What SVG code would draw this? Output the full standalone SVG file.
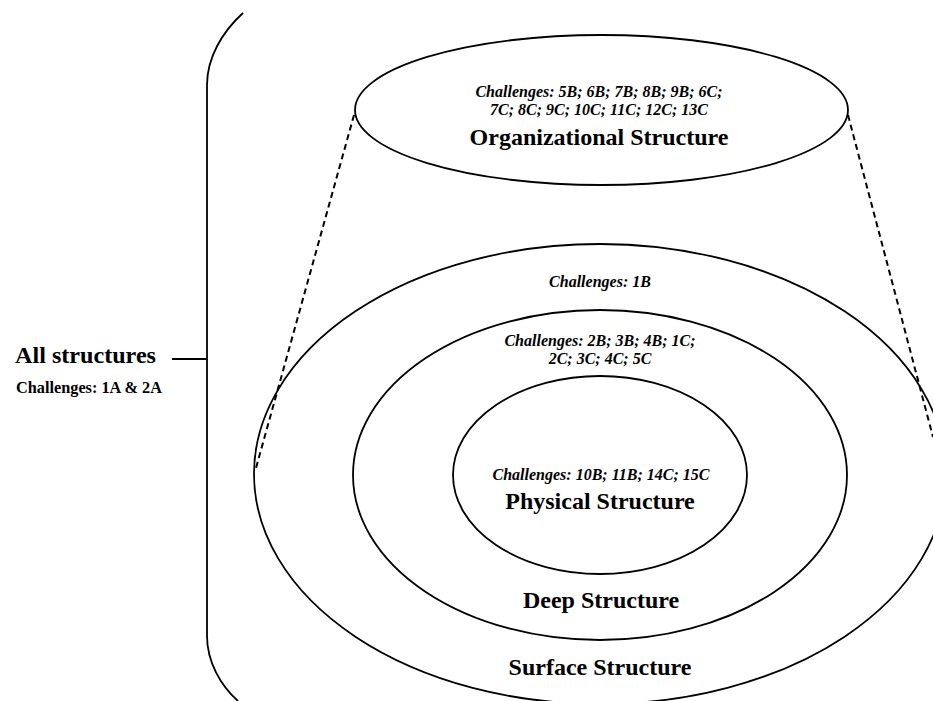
<svg xmlns="http://www.w3.org/2000/svg" width="933" height="701" viewBox="0 0 933 701">
<style>
.shape{fill:none;stroke:#000;stroke-width:1.8}
.dash{fill:none;stroke:#000;stroke-width:2;stroke-dasharray:6 4}
.title{font-family:"Liberation Serif","Times New Roman",serif;font-weight:bold;font-size:24px;fill:#000;text-anchor:middle}
.ch{font-family:"Liberation Serif","Times New Roman",serif;font-weight:bold;font-style:italic;font-size:16px;fill:#000;text-anchor:middle}
.chu{font-family:"Liberation Serif","Times New Roman",serif;font-weight:bold;font-size:16px;fill:#000}
</style>
<rect width="933" height="701" fill="#fff"/>
<g id="connectors">
<path class="dash" d="M354,115 L256,468"/>
<path class="dash" d="M848,115 L933,437"/>
<path class="shape" d="M172,359 L207,359"/>
</g>
<g id="all-structures">
<path class="shape" d="M243,13 C222,32 207,58 207,85 L207,636 C207,662 221,686 238,701"/>
<text class="title" x="15" y="363" style="text-anchor:start" textLength="141" lengthAdjust="spacingAndGlyphs">All structures</text>
<text class="chu" x="16" y="393" textLength="146" lengthAdjust="spacingAndGlyphs">Challenges: 1A &amp; 2A</text>
</g>
<g id="organizational-structure">
<ellipse class="shape" cx="601.5" cy="110" rx="246.5" ry="75"/>
<text class="ch" x="599" y="97">Challenges: 5B; 6B; 7B; 8B; 9B; 6C;</text>
<text class="ch" x="599" y="115">7C; 8C; 9C; 10C; 11C; 12C; 13C</text>
<text class="title" x="599" y="145">Organizational Structure</text>
</g>
<g id="surface-structure">
<ellipse class="shape" cx="600" cy="474" rx="346" ry="230"/>
<text class="ch" x="600" y="287">Challenges: 1B</text>
<text class="title" x="600" y="675">Surface Structure</text>
</g>
<g id="deep-structure">
<ellipse class="shape" cx="600" cy="475" rx="247" ry="165"/>
<text class="ch" x="600" y="346">Challenges: 2B; 3B; 4B; 1C;</text>
<text class="ch" x="600" y="364">2C; 3C; 4C; 5C</text>
<text class="title" x="601" y="608">Deep Structure</text>
</g>
<g id="physical-structure">
<ellipse class="shape" cx="600" cy="475" rx="147" ry="99"/>
<text class="ch" x="601" y="480">Challenges: 10B; 11B; 14C; 15C</text>
<text class="title" x="600" y="509">Physical Structure</text>
</g>
</svg>
